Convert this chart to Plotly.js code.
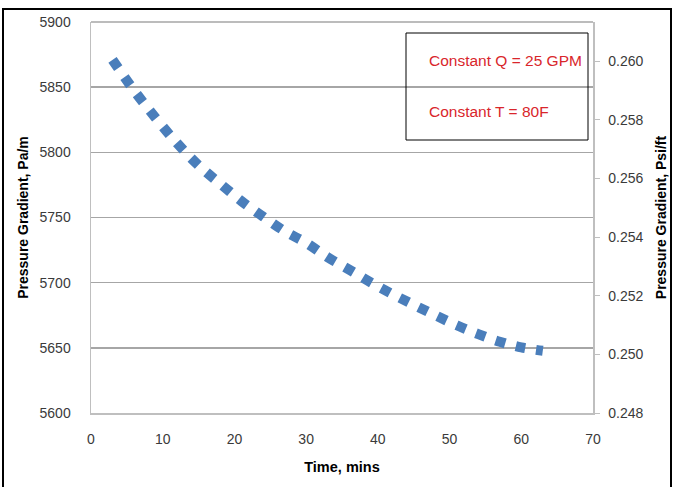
<!DOCTYPE html>
<html>
<head>
<meta charset="utf-8">
<script src="https://cdn.plot.ly/plotly-3.0.1.min.js"></script>
<style>
  html, body { margin: 0; padding: 0; background: #ffffff; }
  #chart { width: 674px; height: 487px; }
</style>
</head>
<body>
<div id="chart"></div>
<script>
// Time (mins) and pressure gradient (Pa/m)
const timeMins = [3, 6, 9, 12, 15, 18, 21, 24, 27, 30, 33, 36, 39, 42, 45, 48, 51, 54, 57, 60, 63];
const gradientPaM = [5871, 5847.5, 5826.5, 5807, 5790, 5776, 5762.5, 5750.7, 5739.5, 5730.5, 5719.5,
                     5710, 5700.2, 5691.3, 5683, 5675, 5667.3, 5660.5, 5654.7, 5650.3, 5647.7];
const leftTicks = [5600, 5650, 5700, 5750, 5800, 5850, 5900];
const rightTicks = [0.248, 0.250, 0.252, 0.254, 0.256, 0.258, 0.260];
const xTicks = [0, 10, 20, 30, 40, 50, 60, 70];
const noteLines = ["Constant Q = 25 GPM", "Constant T = 80F"];

const FONT = "Liberation Sans, Arial, sans-serif";
const TICKCOL = "#3a3a3a";

const traces = [
  {
    x: timeMins,
    y: gradientPaM,
    type: "scatter",
    mode: "lines",
    line: { color: "#4a7ebb", width: 10, dash: "10px,11px", shape: "spline" },
    showlegend: false,
    hoverinfo: "skip"
  },
  {
    // invisible trace to activate the right axis
    x: [timeMins[0]],
    y: [rightTicks[0]],
    yaxis: "y2",
    type: "scatter",
    mode: "markers",
    marker: { opacity: 0 },
    showlegend: false,
    hoverinfo: "skip"
  }
];

const L = 91, R = 81, T = 22, B = 74, W = 674, H = 487;
const pw = W - L - R, ph = H - T - B;
const px = v => (v - L) / pw;
const py = v => (H - B - v) / ph;

const layout = {
  width: W,
  height: H,
  margin: { l: L, r: R, t: T, b: B, pad: 0 },
  paper_bgcolor: "#ffffff",
  plot_bgcolor: "#ffffff",
  font: { family: FONT, size: 14, color: TICKCOL },
  xaxis: {
    range: [0, 70],
    tickvals: xTicks,
    ticktext: xTicks.map(String),
    showgrid: false,
    zeroline: false,
    showline: true,
    linecolor: "#bfbfbf",
    linewidth: 1.5,
    ticks: "outside",
    ticklen: 13,
    tickcolor: "rgba(0,0,0,0)",
    tickfont: { family: FONT, size: 14, color: TICKCOL },
    title: { text: "<b>Time, mins</b>", font: { family: FONT, size: 14.5, color: "#000000" }, standoff: 15 },
    fixedrange: true
  },
  yaxis: {
    range: [5600, 5900],
    tickvals: leftTicks,
    ticktext: leftTicks.map(String),
    showgrid: true,
    gridcolor: "#a6a6a6",
    gridwidth: 1.5,
    zeroline: false,
    showline: true,
    linecolor: "#bfbfbf",
    linewidth: 1.5,
    ticks: "outside",
    ticklen: 16,
    tickcolor: "rgba(0,0,0,0)",
    tickfont: { family: FONT, size: 14, color: TICKCOL },
    title: { text: "<b>Pressure Gradient, Pa/m</b>", font: { family: FONT, size: 14, color: "#000000" }, standoff: 7 },
    fixedrange: true
  },
  yaxis2: {
    overlaying: "y",
    side: "right",
    range: [0.248, 0.26133],
    tickvals: rightTicks,
    ticktext: rightTicks.map(v => v.toFixed(3)),
    showgrid: false,
    zeroline: false,
    showline: true,
    linecolor: "#bfbfbf",
    linewidth: 1.5,
    ticks: "outside",
    ticklen: 5,
    tickcolor: "#bfbfbf",
    tickwidth: 1,
    tickfont: { family: FONT, size: 14, color: TICKCOL },
    ticklabelstandoff: 6,
    title: { text: "<b>Pressure Gradient, Psi/ft</b>", font: { family: FONT, size: 14, color: "#000000" }, standoff: 13 },
    fixedrange: true
  },
  shapes: [
    // outer black frame
    { type: "rect", xref: "paper", yref: "paper", x0: px(3), x1: px(671), y0: py(495), y1: py(9),
      line: { color: "#000000", width: 2 }, fillcolor: "rgba(0,0,0,0)", layer: "below" },
    // top plot border (gray)
    { type: "line", xref: "paper", yref: "paper", x0: 0, x1: 1, y0: 1, y1: 1,
      line: { color: "#a6a6a6", width: 1.5 }, layer: "below" },
    // note box
    { type: "rect", xref: "paper", yref: "paper", x0: px(406), x1: px(588), y0: py(140), y1: py(33),
      line: { color: "#000000", width: 1 }, fillcolor: "rgba(255,255,255,0)", layer: "above" }
  ],
  annotations: [
    { xref: "paper", yref: "paper", x: px(427), y: py(60), xanchor: "left", yanchor: "middle",
      text: noteLines[0], showarrow: false, font: { family: FONT, size: 15.5, color: "#d9262b" } },
    { xref: "paper", yref: "paper", x: px(427), y: py(112), xanchor: "left", yanchor: "middle",
      text: noteLines[1], showarrow: false, font: { family: FONT, size: 15.5, color: "#d9262b" } }
  ]
};

Plotly.newPlot("chart", traces, layout, { displayModeBar: false, staticPlot: true });
</script>
</body>
</html>
